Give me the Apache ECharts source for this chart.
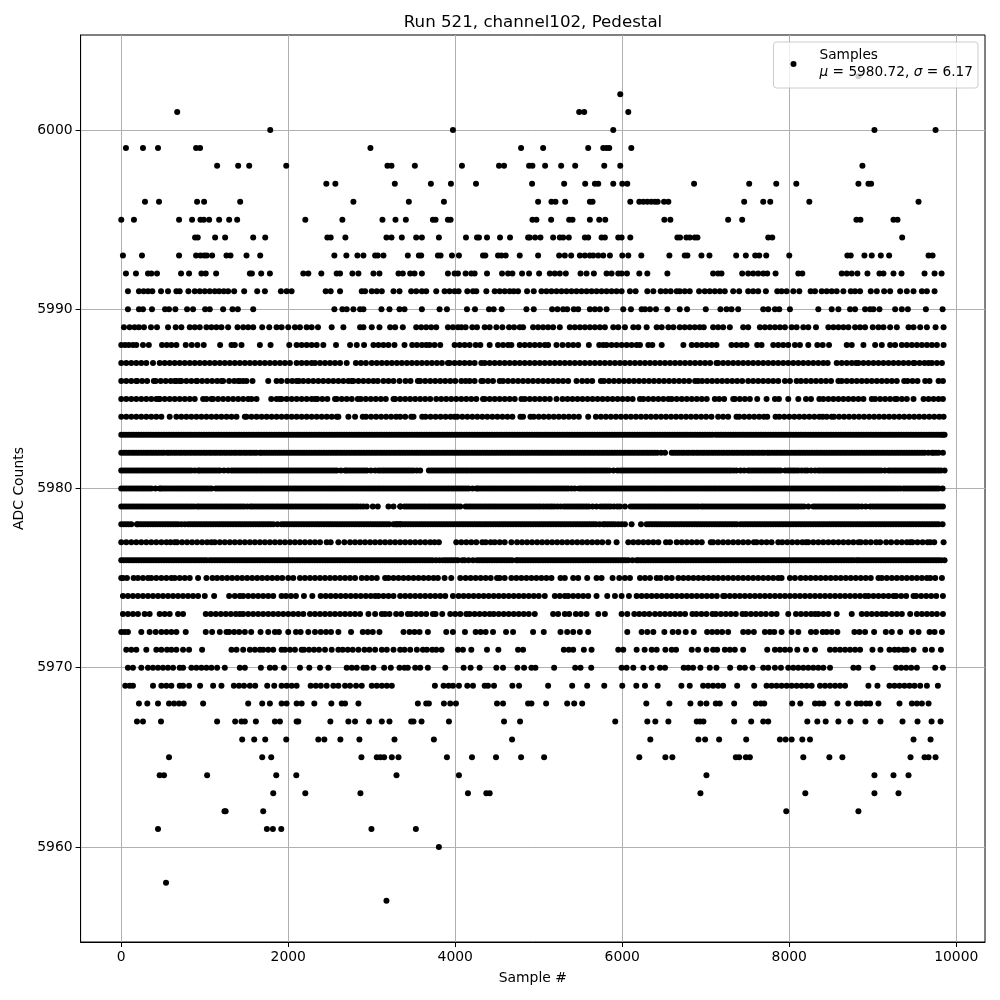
<!DOCTYPE html>
<html><head><meta charset="utf-8"><style>html,body{margin:0;padding:0;background:#fff}#c{width:1000px;height:1000px}</style>
<script src="https://cdn.jsdelivr.net/npm/echarts@6/dist/echarts.min.js"></script></head><body><div id="c"></div><script>
const xTicks=[0,2000,4000,6000,8000,10000];
const yTicks=[5960,5970,5980,5990,6000];
const r6003=[8828];
const r6002=[5976];
const r6001=[670,5484,5544,6072];
const r6000=[1784,3972,5892,9020,9752];
const r5999=[56,260,440,896,944,2984,4788,5052,5592,5772,5812,5844,6108];
const r5998=[1148,1400,1532,1976,3188,3236,3516,4080,4524,4584,4884,4924,5076,5268,5436,5784,5976,8876];
const r5997=[2456,2564,3276,3708,3948,4248,4920,5304,5556,5672,5712,5892,6000,6060,6860,7520,7844,8084,8828,8948,8980];
const r5996=[284,452,908,992,1424,2780,3444,3864,4992,5152,5200,5316,5612,5644,6096,6204,6252,6300,6348,6392,6424,6500,6552,7460,7688,7772,8240,9548];
const r5995=[0,152,692,848,948,988,1052,1172,1292,1388,2204,2648,3128,3284,3408,3732,3764,3912,3944,4924,4972,5148,5364,5404,5612,5724,5796,6504,6576,7268,7436,8804,8852,9248,9296];
const r5994=[884,916,1124,1244,1580,1724,2468,2508,2684,3176,3236,3360,3532,3600,3804,4128,4260,4284,4380,4536,4656,4872,4892,4956,5020,5172,5252,5292,5360,5552,5592,5752,5792,5952,5992,6096,6660,6692,6768,6808,6868,6900,7748,7796,9352];
const r5993=[20,248,692,896,948,992,1024,1088,1260,1308,1500,1664,2552,2696,2828,2900,3040,3072,3140,3432,3564,3592,3792,3824,3960,4044,4332,4360,4512,4552,4604,4772,4992,5244,5312,5388,5492,5552,5612,5652,5712,5772,5852,6000,6072,6228,6564,6748,6780,6948,7044,7364,7480,7592,7640,7724,8000,8696,8736,8900,8988,9096,9196,9668,9716];
const r5992=[56,176,320,360,428,716,812,960,1012,1136,1540,1564,1676,1780,2180,2240,2396,2580,2620,2768,2840,3020,3092,3320,3372,3460,3512,3600,3912,3992,4032,4124,4192,4232,4380,4560,4632,4684,4800,4884,5004,5132,5192,5252,5324,5500,5572,5660,5812,5872,5952,5992,6056,6204,6300,6540,7088,7148,7188,7436,7508,7568,7628,7688,7736,7836,8108,8156,8628,8688,8748,8816,8936,9080,9128,9248,9344,9620,9740,9824];
const r5991=[80,212,268,320,372,476,560,660,700,804,880,940,1000,1060,1120,1172,1228,1280,1352,1472,1628,1720,1912,1980,2040,2448,2508,2620,2880,2920,3000,3060,3120,3260,3332,3472,3532,3600,3652,3772,3872,3932,3992,4040,4144,4212,4252,4372,4472,4532,4592,4652,4700,4752,4860,4940,5032,5092,5152,5212,5272,5332,5392,5452,5512,5572,5632,5692,5752,5812,5872,5932,5992,6092,6160,6300,6372,6460,6520,6580,6652,6688,6748,6808,6920,6988,7048,7108,7168,7228,7328,7400,7508,7568,7628,7720,7856,7908,7968,8048,8120,8256,8308,8388,8448,8508,8568,8648,8736,8788,8848,8976,9048,9136,9208,9328,9408,9488,9588,9648,9740];
const r5990=[80,212,260,368,524,572,648,788,860,1004,1060,1220,1332,1396,1580,2552,2648,2700,2780,2860,2900,3116,3212,3332,3392,3600,3812,3900,4140,4236,4404,4460,4556,4852,4940,5160,5224,5292,5340,5420,5472,5612,5672,5732,5812,6012,6104,6232,6272,6332,6404,6540,6688,6776,7000,7176,7248,7308,7388,7688,7748,7828,7880,8008,8348,8508,8588,8728,8788,8908,8968,9008,9080,9268,9348,9420,9636,9836];
const r5989=[32,100,160,212,272,356,428,560,652,720,820,880,940,1020,1080,1140,1200,1280,1392,1460,1520,1580,1688,1772,1860,1920,2000,2080,2140,2220,2280,2356,2520,2660,2860,2900,3000,3092,3220,3280,3372,3532,3592,3652,3712,3772,3912,3972,4032,4072,4124,4204,4260,4352,4412,4492,4564,4644,4704,4772,4812,4932,4992,5052,5112,5172,5252,5372,5432,5492,5552,5612,5672,5732,5792,5892,5952,6032,6132,6192,6292,6412,6472,6552,6612,6688,6748,6808,6868,6928,6976,7088,7148,7208,7288,7448,7508,7648,7708,7768,7828,7888,7948,8028,8088,8168,8228,8320,8468,8528,8588,8648,8708,8788,8848,8908,9000,9068,9128,9208,9288,9428,9488,9568,9648,9752,9848];
const r5988=[0,45,90,140,180,260,330,488,545,600,660,772,844,912,988,1184,1320,1360,1440,1660,1788,2012,2100,2160,2220,2280,2340,2420,2572,2740,2820,2908,3020,3080,3140,3200,3272,3392,3484,3540,3600,3652,3692,3752,3820,3992,4052,4112,4172,4244,4300,4412,4512,4572,4632,4672,4772,4832,4892,4952,5012,5072,5112,5212,5284,5352,5412,5472,5600,5724,5772,5812,5872,5932,5992,6052,6112,6172,6212,6312,6360,6472,6732,6832,6892,6952,7012,7072,7128,7308,7368,7428,7488,7616,7668,7808,7868,7928,7988,8068,8128,8228,8336,8400,8476,8688,8748,8888,9028,9108,9208,9268,9348,9408,9468,9528,9588,9648,9708,9768,9848];
const r5987=[0,60,120,180,240,300,380,460,520,580,640,700,760,820,880,940,1000,1060,1120,1180,1240,1300,1360,1420,1480,1540,1600,1660,1720,1780,1840,1900,1960,2020,2100,2160,2220,2280,2320,2380,2440,2500,2560,2620,2700,2810,2870,2930,3000,3060,3120,3180,3240,3300,3360,3420,3480,3540,3600,3660,3720,3780,3840,3912,3932,3992,4052,4112,4172,4232,4312,4352,4412,4472,4532,4592,4652,4712,4772,4832,4892,4952,5012,5072,5132,5192,5252,5312,5372,5432,5492,5552,5612,5672,5732,5792,5852,5912,5972,6032,6092,6152,6212,6272,6332,6392,6452,6512,6572,6632,6692,6752,6812,6872,6932,6992,7052,7128,7148,7208,7268,7328,7388,7448,7508,7568,7628,7688,7748,7808,7868,7928,7988,8048,8108,8168,8228,8288,8348,8408,8460,8568,8628,8688,8748,8800,8828,8888,8948,9008,9068,9128,9188,9248,9308,9368,9428,9488,9500,9560,9620,9668,9708,9768,9828];
const r5986=[0,60,120,180,190,250,310,390,412,472,532,592,640,660,700,720,780,840,900,908,968,1028,1088,1148,1200,1220,1292,1352,1400,1420,1460,1500,1572,1760,1860,1916,1988,2048,2100,2128,2180,2240,2300,2360,2420,2480,2540,2600,2660,2720,2760,2780,2840,2900,2960,3020,3072,3140,3200,3260,3332,3404,3464,3552,3580,3640,3700,3760,3820,3880,3940,4000,4072,4124,4172,4232,4312,4332,4392,4452,4532,4572,4632,4692,4752,4812,4872,4932,4992,5052,5112,5172,5232,5292,5352,5452,5520,5580,5640,5744,5780,5840,5900,5960,6020,6080,6140,6200,6260,6320,6380,6440,6500,6560,6620,6680,6740,6800,6872,6908,6956,7016,7076,7136,7196,7256,7316,7376,7436,7508,7568,7628,7688,7748,7808,7868,7948,8008,8088,8140,8200,8260,8320,8380,8440,8500,8588,8628,8688,8748,8808,8868,8928,8988,9048,9108,9168,9228,9288,9376,9416,9476,9536,9628,9680,9788,9840];
const r5985=[0,60,120,180,240,300,360,420,452,460,520,580,640,700,760,820,880,980,1020,1080,1100,1160,1220,1280,1340,1400,1460,1520,1560,1620,1796,1860,1900,1920,1980,2040,2100,2160,2220,2280,2320,2348,2408,2468,2560,2580,2640,2700,2760,2832,2868,2928,2988,3048,3108,3168,3260,3280,3340,3400,3460,3520,3580,3640,3700,3772,3832,3892,3952,4012,4072,4132,4192,4252,4332,4352,4412,4472,4532,4592,4652,4712,4792,4832,4892,4952,5012,5072,5132,5212,5284,5344,5404,5464,5524,5584,5644,5704,5764,5824,5884,5944,6004,6064,6124,6212,6252,6312,6372,6432,6492,6552,6592,6652,6712,6772,6832,6892,6952,7012,7108,7160,7220,7328,7348,7408,7468,7528,7616,7728,7828,7876,7988,8108,8200,8260,8360,8408,8468,8528,8588,8648,8708,8768,8828,8888,8988,9028,9088,9148,9208,9268,9288,9348,9408,9488,9608,9668,9728,9788,9840];
const r5984=[0,60,120,180,240,300,360,420,480,580,660,720,780,840,900,960,1020,1080,1140,1200,1260,1320,1380,1480,1500,1560,1620,1680,1740,1800,1860,1920,1980,2040,2100,2160,2220,2280,2340,2400,2460,2520,2580,2600,2720,2800,2892,2932,2992,3052,3112,3172,3232,3292,3340,3400,3472,3500,3604,3644,3704,3764,3824,3884,3944,3992,4024,4084,4144,4204,4264,4324,4384,4444,4504,4564,4624,4684,4780,4812,4900,4940,5000,5060,5120,5180,5240,5300,5360,5420,5480,5592,5684,5744,5804,5864,5924,5984,6044,6104,6164,6224,6284,6344,6404,6464,6524,6584,6644,6704,6764,6824,6884,6944,7004,7068,7148,7208,7268,7368,7400,7460,7520,7580,7640,7696,7736,7836,7880,7940,8000,8060,8120,8180,8240,8300,8360,8400,8448,8508,8536,8596,8656,8716,8776,8836,8896,8956,9016,9076,9136,9196,9256,9316,9376,9436,9496,9556,9616,9676,9736,9796,9848];
const r5983=[0,60,120,180,240,300,360,420,480,540,600,660,720,780,840,900,960,1020,1080,1140,1200,1260,1320,1380,1440,1500,1560,1620,1680,1740,1800,1860,1920,1980,2040,2100,2160,2220,2280,2340,2400,2460,2520,2580,2640,2700,2760,2820,2880,2940,3000,3060,3120,3180,3240,3300,3360,3420,3480,3540,3600,3660,3720,3780,3840,3900,3960,4020,4080,4140,4200,4260,4320,4380,4440,4500,4560,4620,4680,4740,4800,4860,4920,4980,5040,5100,5160,5220,5280,5340,5400,5460,5520,5580,5640,5700,5760,5820,5880,5940,6000,6060,6120,6180,6240,6300,6360,6420,6480,6540,6600,6660,6720,6780,6840,6900,6960,7020,7080,7120,7180,7240,7300,7360,7420,7480,7540,7600,7660,7720,7780,7840,7900,7960,8020,8080,8140,8200,8260,8320,8380,8440,8500,8560,8620,8680,8740,8800,8860,8920,8980,9040,9100,9160,9220,9280,9340,9400,9460,9520,9580,9640,9700,9760,9820,9860,
30,90,150,210,270,330,390,450,510,570,630,690,750,810,870,930,990,1050,1110,1170,1230,1290,1350,1410,1470,1530,1590,1650,1710,1770,1830,1890,1950,2010,2070,2130,2190,2250,2310,2370,2430,2490,2550,2610,2670,2730,2790,2850,2910,2970,3030,3090,3150,3210,3270,3330,3390,3450,3510,3570,3630,3690,3750,3810,3870,3930,3990,4050,4110,4170,4230,4290,4350,4410,4470,4530,4590,4650,4710,4770,4830,4890,4950,5010,5070,5130,5190,5250,5310,5370,5430,5490,5550,5610,5670,5730,5790,5850,5910,5970,6030,6090,6150,6210,6270,6330,6390,6450,6510,6570,6630,6690,6750,6810,6870,6930,6990,7050,7150,7210,7270,7330,7390,7450,7510,7570,7630,7690,7750,7810,7870,7930,7990,8050,8110,8170,8230,8290,8350,8410,8470,8530,8590,8650,8710,8770,8830,8890,8950,9010,9070,9130,9190,9250,9310,9370,9430,9490,9550,9610,9670,9730,9790,9840];
const r5982=[0,60,120,180,240,300,360,420,480,548,572,632,692,752,812,872,932,992,1052,1112,1172,1232,1292,1352,1412,1472,1532,1592,1660,1680,1740,1800,1860,1920,1980,2040,2100,2160,2220,2280,2340,2400,2460,2520,2580,2640,2700,2760,2820,2880,2940,3000,3060,3120,3180,3240,3300,3360,3420,3480,3540,3600,3660,3720,3780,3840,3900,3960,4020,4080,4140,4200,4260,4320,4380,4440,4500,4560,4620,4680,4740,4800,4860,4920,4980,5040,5100,5160,5220,5280,5340,5400,5460,5520,5580,5640,5700,5760,5820,5880,5940,6000,6060,6120,6180,6240,6300,6360,6420,6512,6592,6652,6712,6772,6832,6892,6952,7012,7072,7132,7192,7252,7312,7372,7432,7492,7552,7612,7672,7736,7760,7820,7880,7940,8000,8060,8120,8180,8240,8300,8360,8420,8480,8540,8600,8660,8720,8780,8840,8900,8960,9020,9080,9140,9200,9260,9320,9380,9440,9500,9560,9620,9708,9728,9788,9840,
30,90,150,210,270,330,390,450,510,600,660,720,780,840,900,960,1020,1080,1140,1200,1260,1320,1380,1440,1500,1560,1620,1710,1770,1830,1890,1950,2010,2070,2130,2190,2250,2310,2370,2430,2490,2550,2610,2670,2730,2790,2850,2910,2970,3030,3090,3150,3210,3270,3330,3390,3450,3510,3570,3630,3690,3750,3810,3870,3930,3990,4050,4110,4170,4230,4290,4350,4410,4470,4530,4590,4650,4710,4770,4830,4890,4950,5010,5070,5130,5190,5250,5310,5370,5430,5490,5550,5610,5670,5730,5790,5850,5910,5970,6030,6090,6150,6210,6270,6330,6390,6466,6620,6680,6740,6800,6860,6920,6980,7040,7100,7160,7220,7280,7340,7400,7460,7520,7580,7640,7700,7790,7850,7910,7970,8030,8090,8150,8210,8270,8330,8390,8450,8510,8570,8630,8690,8750,8810,8870,8930,8990,9050,9110,9170,9230,9290,9350,9410,9470,9530,9590,9664,9758];
const r5981=[0,60,120,180,240,300,360,420,480,540,600,660,720,780,840,920,940,1000,1060,1120,1180,1280,1320,1380,1440,1500,1560,1620,1680,1740,1800,1860,1920,1980,2040,2100,2160,2220,2280,2340,2400,2460,2520,2580,2680,2700,2760,2820,2880,2940,3040,3080,3140,3200,3260,3320,3380,3440,3500,3580,3684,3744,3804,3864,3924,3984,4044,4104,4164,4224,4284,4344,4404,4464,4524,4584,4644,4704,4764,4824,4884,4944,5004,5064,5124,5184,5244,5304,5364,5424,5484,5544,5604,5664,5724,5784,5844,5944,5980,6040,6100,6160,6220,6280,6340,6400,6460,6520,6580,6640,6700,6760,6820,6880,6940,7000,7060,7120,7180,7240,7300,7368,7416,7508,7536,7596,7656,7716,7776,7836,7896,7952,7988,8048,8108,8188,8216,8308,8348,8408,8468,8528,8588,8648,8708,8768,8828,8888,8948,9008,9068,9100,9188,9216,9276,9336,9396,9456,9516,9576,9636,9696,9756,9816,9860,
30,90,150,210,270,330,390,450,510,570,630,690,750,810,880,970,1030,1090,1150,1230,1350,1410,1470,1530,1590,1650,1710,1770,1830,1890,1950,2010,2070,2130,2190,2250,2310,2370,2430,2490,2550,2630,2730,2790,2850,2910,2990,3110,3170,3230,3290,3350,3410,3470,3540,3714,3774,3834,3894,3954,4014,4074,4134,4194,4254,4314,4374,4434,4494,4554,4614,4674,4734,4794,4854,4914,4974,5034,5094,5154,5214,5274,5334,5394,5454,5514,5574,5634,5694,5754,5814,5894,6010,6070,6130,6190,6250,6310,6370,6430,6490,6550,6610,6670,6730,6790,6850,6910,6970,7030,7090,7150,7210,7270,7334,7460,7566,7626,7686,7746,7806,7866,8018,8078,8148,8262,8378,8438,8498,8558,8618,8678,8738,8798,8858,8918,8978,9038,9144,9246,9306,9366,9426,9486,9546,9606,9666,9726,9786];
const r5980=[0,60,120,180,240,300,360,410,460,480,540,600,660,720,780,840,900,960,1020,1080,1132,1160,1220,1280,1340,1400,1460,1520,1580,1640,1700,1760,1820,1880,1940,2000,2060,2120,2180,2240,2300,2360,2420,2480,2540,2600,2660,2720,2780,2840,2900,2960,3020,3080,3140,3200,3260,3320,3380,3440,3500,3560,3620,3680,3740,3800,3860,3920,3980,4040,4100,4160,4206,4252,4272,4332,4392,4452,4512,4572,4632,4692,4752,4812,4872,4932,4992,5052,5112,5172,5232,5292,5352,5392,5432,5484,5544,5604,5664,5724,5784,5844,5904,5964,6024,6084,6144,6204,6264,6324,6384,6444,6504,6564,6624,6684,6744,6804,6864,6924,6984,7044,7104,7164,7224,7284,7344,7404,7464,7524,7584,7644,7704,7764,7824,7884,7944,8004,8064,8124,8184,8244,8304,8364,8424,8484,8544,8604,8664,8724,8784,8844,8904,8964,9024,9084,9144,9204,9264,9328,9368,9428,9488,9548,9608,9668,9728,9788,9836,
30,90,150,210,270,330,510,570,630,690,750,810,870,930,990,1050,1190,1250,1310,1370,1430,1490,1550,1610,1670,1730,1790,1850,1910,1970,2030,2090,2150,2210,2270,2330,2390,2450,2510,2570,2630,2690,2750,2810,2870,2930,2990,3050,3110,3170,3230,3290,3350,3410,3470,3530,3590,3650,3710,3770,3830,3890,3950,4010,4070,4130,4300,4362,4422,4482,4542,4602,4662,4722,4782,4842,4902,4962,5022,5082,5142,5202,5262,5322,5514,5574,5634,5694,5754,5814,5874,5934,5994,6054,6114,6174,6234,6294,6354,6414,6474,6534,6594,6654,6714,6774,6834,6894,6954,7014,7074,7134,7194,7254,7314,7374,7434,7494,7554,7614,7674,7734,7794,7854,7914,7974,8034,8094,8154,8214,8274,8334,8394,8454,8514,8574,8634,8694,8754,8814,8874,8934,8994,9054,9114,9174,9234,9296,9398,9458,9518,9578,9638,9698,9758];
const r5979=[0,60,120,180,240,300,360,420,480,540,600,660,720,780,840,908,932,992,1052,1112,1172,1232,1292,1352,1412,1472,1548,1572,1632,1692,1752,1812,1872,1932,1992,2052,2112,2172,2232,2292,2352,2412,2472,2532,2592,2652,2712,2772,2832,2900,2940,3012,3072,3200,3260,3340,3344,3392,3452,3512,3572,3632,3692,3752,3812,3872,3932,3992,4060,4124,4184,4244,4304,4364,4424,4484,4544,4604,4664,4724,4784,4844,4904,4964,5024,5092,5124,5184,5260,5300,5360,5420,5480,5540,5600,5692,5740,5800,5860,5940,5972,6032,6100,6132,6192,6252,6312,6372,6432,6492,6552,6612,6672,6732,6792,6852,6912,6948,6976,7036,7096,7156,7216,7276,7336,7396,7456,7516,7576,7636,7696,7756,7816,7876,7936,7996,8056,8116,8176,8228,8288,8348,8408,8468,8528,8588,8648,8708,8768,8828,8868,8916,8968,9028,9088,9148,9208,9268,9328,9388,9448,9508,9568,9628,9688,9748,9808,9840,
30,90,150,210,270,330,390,450,510,570,630,690,750,810,870,962,1022,1082,1142,1202,1262,1322,1382,1442,1510,1602,1662,1722,1782,1842,1902,1962,2022,2082,2142,2202,2262,2322,2382,2442,2502,2562,2622,2682,2742,2802,2866,3422,3482,3542,3602,3662,3722,3782,3842,3902,3962,4026,4154,4214,4274,4334,4394,4454,4514,4574,4634,4694,4754,4814,4874,4934,4994,5058,5154,5222,5330,5390,5450,5510,5570,5646,5770,5830,5900,6162,6222,6282,6342,6402,6462,6522,6582,6642,6702,6762,6822,6882,7006,7066,7126,7186,7246,7306,7366,7426,7486,7546,7606,7666,7726,7786,7846,7906,7966,8026,8086,8146,8318,8378,8438,8498,8558,8618,8678,8738,8798,8998,9058,9118,9178,9238,9298,9358,9418,9478,9538,9598,9658,9718,9778];
const r5978=[0,60,120,188,200,260,320,380,440,500,560,620,680,760,800,860,920,980,1040,1100,1160,1220,1280,1340,1400,1460,1520,1580,1640,1700,1760,1820,1920,1948,2008,2068,2128,2188,2248,2308,2368,2428,2488,2548,2608,2668,2728,2788,2848,2908,2968,3028,3088,3148,3208,3260,3300,3340,3284,3344,3404,3464,3524,3584,3644,3704,3764,3824,3884,3944,4004,4064,4124,4184,4244,4304,4364,4424,4484,4544,4604,4664,4724,4784,4844,4904,4964,5024,5084,5144,5204,5264,5324,5384,5444,5504,5564,5624,5684,5772,5792,5852,5912,5992,6032,6112,6224,6292,6352,6412,6472,6532,6592,6652,6712,6772,6832,6892,6952,7012,7072,7132,7192,7252,7312,7372,7416,7448,7508,7568,7628,7688,7748,7808,7868,7928,7988,8048,8108,8168,8228,8288,8348,8408,8468,8528,8588,8648,8708,8768,8828,8888,8948,9008,9068,9128,9188,9248,9308,9368,9428,9488,9548,9608,9668,9728,9788,9836,
30,90,230,290,350,410,470,530,590,650,720,830,890,950,1010,1070,1130,1190,1250,1310,1370,1430,1490,1550,1610,1670,1730,1790,1870,1978,2038,2098,2158,2218,2278,2338,2398,2458,2518,2578,2638,2698,2758,2818,2878,2938,2998,3058,3118,3178,3314,3374,3434,3494,3554,3614,3674,3734,3794,3854,3914,3974,4034,4094,4154,4214,4274,4334,4394,4454,4514,4574,4634,4694,4754,4814,4874,4934,4994,5054,5114,5174,5234,5294,5354,5414,5474,5534,5594,5654,5728,5822,5882,5952,6322,6382,6442,6502,6562,6622,6682,6742,6802,6862,6922,6982,7042,7102,7162,7222,7282,7342,7478,7538,7598,7658,7718,7778,7838,7898,7958,8018,8078,8138,8198,8258,8318,8378,8438,8498,8558,8618,8678,8738,8798,8858,8918,8978,9038,9098,9158,9218,9278,9338,9398,9458,9518,9578,9638,9698,9758];
const r5977=[0,60,120,180,240,300,360,420,480,540,590,640,668,728,788,848,908,968,1028,1080,1120,1180,1240,1300,1360,1420,1480,1540,1600,1660,1720,1780,1840,1900,1960,2020,2080,2140,2200,2260,2320,2380,2460,2508,2600,2672,2740,2800,2860,2920,2980,3040,3100,3160,3220,3280,3340,3400,3460,3520,3580,3640,3700,3752,3804,4012,4072,4132,4192,4252,4324,4364,4424,4472,4532,4592,4672,4740,4800,4860,4920,4980,5040,5100,5160,5220,5280,5340,5400,5460,5520,5580,5640,5700,5760,5832,5932,6072,6132,6192,6252,6312,6372,6432,6524,6572,6652,6712,6772,6832,6892,6952,7060,7088,7148,7208,7268,7328,7388,7448,7508,7576,7608,7668,7728,7788,7868,7916,7976,8036,8096,8156,8200,8228,8288,8348,8408,8468,8528,8588,8648,8708,8768,8828,8856,8916,8976,9040,9088,9160,9220,9288,9348,9408,9448,9476,9536,9596,9656,9688,9736,9848];
const r5976=[0,60,120,180,240,300,360,420,480,540,600,660,720,780,840,900,960,1020,1060,1120,1180,1240,1300,1360,1420,1480,1540,1600,1660,1720,1780,1840,1900,1960,2020,2080,2140,2200,2260,2320,2380,2440,2468,2528,2588,2648,2708,2768,2828,2888,2948,3008,3068,3128,3188,3248,3308,3368,3428,3488,3548,3608,3668,3728,3812,3852,3912,3972,4032,4084,4112,4212,4260,4320,4380,4440,4500,4560,4620,4680,4732,4752,4812,4872,4932,4992,5052,5112,5172,5232,5292,5352,5412,5472,5532,5592,5652,5712,5772,5832,5892,5952,6012,6072,6172,6192,6252,6312,6372,6432,6492,6552,6612,6672,6732,6792,6852,6912,6972,7032,7092,7152,7212,7272,7332,7392,7452,7512,7572,7632,7692,7752,7812,7872,7932,7992,8052,8112,8172,8232,8292,8352,8412,8472,8532,8592,8652,8712,8772,8808,8828,8888,8948,9008,9068,9128,9188,9248,9308,9368,9428,9488,9548,9608,9668,9728,9788,9860,
30,90,150,210,270,330,390,450,510,570,630,690,750,810,870,930,990,1090,1150,1210,1270,1330,1390,1450,1510,1570,1630,1690,1750,1810,1870,1930,1990,2050,2110,2170,2230,2290,2350,2410,2498,2558,2618,2678,2738,2798,2858,2918,2978,3038,3098,3158,3218,3278,3338,3398,3458,3518,3578,3638,3698,3770,3882,3942,4002,4160,4290,4350,4410,4470,4530,4590,4650,4782,4842,4902,4962,5022,5082,5142,5202,5262,5322,5382,5442,5502,5562,5622,5682,5742,5802,5862,5922,5982,6042,6122,6222,6282,6342,6402,6462,6522,6582,6642,6702,6762,6822,6882,6942,7002,7062,7122,7182,7242,7302,7362,7422,7482,7542,7602,7662,7722,7782,7842,7902,7962,8022,8082,8142,8202,8262,8322,8382,8442,8502,8562,8622,8682,8742,8858,8918,8978,9038,9098,9158,9218,9278,9338,9398,9458,9518,9578,9638,9698,9758,9820];
const r5975=[0,20,68,148,200,260,320,360,420,480,540,600,640,700,760,820,920,1020,1092,1148,1208,1268,1328,1388,1448,1508,1568,1628,1688,1748,1808,1868,1928,2000,2060,2140,2200,2260,2320,2380,2440,2500,2560,2620,2680,2740,2800,2880,2940,3000,3060,3160,3200,3260,3320,3380,3440,3500,3560,3620,3680,3740,3792,3872,3952,4060,4124,4184,4244,4304,4364,4424,4500,4532,4592,4672,4732,4792,4852,4912,4972,5032,5092,5152,5260,5312,5412,5472,5580,5692,5752,5884,5964,6032,6092,6212,6272,6332,6412,6460,6532,6592,6672,6732,6792,6852,6912,6972,7032,7092,7148,7208,7268,7328,7388,7448,7508,7568,7628,7688,7748,7808,7868,7908,8008,8068,8136,8196,8256,8316,8376,8436,8496,8556,8616,8676,8736,8796,8856,8916,8976,9068,9108,9168,9228,9288,9348,9408,9468,9528,9588,9648,9688,9748,9828];
const r5974=[20,80,140,200,260,320,380,440,500,560,620,680,740,800,860,920,1000,1112,1292,1360,1420,1460,1520,1580,1640,1700,1760,1820,1920,1972,2032,2092,2188,2288,2388,2448,2508,2568,2628,2688,2748,2808,2868,2928,2988,3040,3080,3140,3200,3260,3340,3400,3460,3520,3580,3640,3700,3760,3820,3880,3972,4040,4100,4160,4220,4280,4340,4400,4460,4520,4580,4640,4700,4760,4820,4880,4940,5000,5072,5192,5252,5312,5352,5412,5472,5532,5592,5692,5820,5912,5992,6080,6172,6232,6292,6352,6412,6472,6532,6592,6652,6712,6772,6832,6892,6952,7012,7072,7132,7208,7228,7288,7348,7408,7468,7528,7588,7648,7708,7768,7828,7888,7948,8008,8068,8128,8188,8248,8308,8368,8428,8488,8548,8608,8668,8728,8788,8848,8908,8948,9008,9068,9128,9188,9248,9280,9340,9400,9488,9520,9580,9640,9700,9760,9840];
const r5973=[20,80,140,200,280,340,460,520,580,680,740,1012,1072,1132,1192,1252,1312,1372,1420,1460,1520,1580,1640,1700,1760,1820,1880,1940,2000,2060,2120,2180,2260,2320,2380,2440,2500,2560,2620,2680,2740,2800,2860,2960,3040,3120,3160,3212,3292,3352,3432,3472,3532,3592,3652,3732,3764,3844,3940,4000,4060,4132,4172,4232,4292,4352,4412,4460,4520,4580,4640,4700,4760,4820,4880,4952,5172,5232,5312,5364,5444,5504,5572,5712,5792,5992,6060,6144,6204,6264,6324,6392,6452,6512,6572,6632,6692,6752,6840,6888,6948,7008,7080,7120,7180,7240,7300,7360,7440,7480,7540,7600,7660,7720,7788,7848,7988,8080,8140,8200,8260,8308,8348,8408,8468,8568,8748,8868,8928,8988,9048,9108,9160,9228,9288,9348,9448,9528,9588,9648,9708,9768,9840];
const r5972=[0,40,80,240,340,412,480,540,600,660,772,1012,1088,1180,1260,1292,1352,1412,1480,1556,1668,1760,1840,1888,2000,2092,2148,2240,2320,2388,2452,2512,2600,2752,2892,2952,3012,3092,3380,3452,3512,3572,3672,3892,3972,4116,4244,4304,4364,4452,4608,4692,4932,5060,5260,5340,5412,5492,5592,6060,6232,6300,6372,6504,6604,6672,6760,6856,7016,7076,7136,7196,7268,7448,7508,7576,7708,7768,7820,7908,8028,8108,8260,8320,8400,8448,8508,8576,8780,8840,8908,9016,9156,9228,9328,9468,9548,9680,9740,9828];
const r5971=[60,120,180,300,420,480,548,600,660,740,812,968,1320,1380,1460,1540,1600,1660,1700,1760,1820,1920,1960,2020,2080,2160,2188,2248,2308,2368,2440,2520,2600,2652,2712,2772,2840,2912,2972,3040,3120,3180,3260,3340,3392,3460,3540,3612,3660,3724,3772,3836,4032,4092,4192,4380,4516,4752,4812,5300,5360,5412,5540,5632,5952,6012,6172,6268,6352,6412,6516,6592,6644,6832,6908,7008,7088,7136,7228,7288,7348,7448,7736,7828,7888,7948,8008,8096,8200,8308,8488,8548,8608,8668,8728,8788,8848,8996,9092,9200,9260,9308,9368,9408,9488,9628,9708,9816];
const r5970=[80,140,240,320,380,440,500,560,620,700,740,840,900,960,1020,1080,1148,1240,1420,1480,1672,1780,1840,1948,2140,2252,2380,2480,2700,2760,2820,2900,2940,3020,3148,3228,3332,3392,3432,3520,3580,3672,3880,4100,4184,4292,4492,4572,4744,4824,4912,4960,5184,5436,5500,5628,5992,6052,6132,6252,6352,6452,6512,6736,6790,6848,6936,7048,7128,7292,7408,7468,7560,7688,7748,7828,7900,7988,8048,8108,8168,8228,8288,8348,8408,8488,8768,8828,9000,9280,9340,9400,9460,9528,9748,9840];
const r5969=[48,100,140,380,480,540,600,700,740,812,944,1100,1200,1348,1410,1470,1540,1604,1748,1832,1920,1980,2040,2100,2268,2330,2390,2460,2540,2600,2680,2740,2812,2880,3000,3060,3120,3180,3240,3756,3860,3920,3972,4044,4144,4212,4352,4392,4464,4684,4764,5112,5400,5580,5784,6000,6168,6272,6424,6708,6808,6968,7028,7088,7148,7208,7376,7580,7728,7788,7848,7908,7968,8028,8088,8148,8208,8268,8368,8428,8488,8548,8608,8668,8948,9056,9200,9260,9320,9380,9440,9500,9568,9648,9780];
const r5968=[212,312,440,572,632,692,748,980,1520,1688,1780,1920,1980,2100,2160,2312,2516,2640,2680,2840,3552,3652,3684,3864,3940,4008,4500,4572,4872,4912,5088,5340,5424,5520,6288,6564,6816,6936,7008,7120,7168,7340,7600,7660,7700,8036,8132,8308,8360,8408,8576,8708,8808,8860,8920,8968,9068,9320,9468,9528,9588,9668];
const r5967=[188,260,476,1148,1364,1440,1480,1612,1840,1900,2100,2120,2504,2720,2800,2968,3120,3212,3472,3500,3596,3924,4584,4776,5916,6300,6396,6552,6892,6932,6972,7340,7544,7688,7748,8216,8336,8436,8588,8732,8912,9092,9356,9536,9704,9812];
const r5966=[1448,1592,1724,1976,2360,2432,2624,2852,3272,3744,4680,6336,6912,6992,7160,7484,7888,7956,8028,8156,8248,9488,9692];
const r5965=[572,1688,1796,2876,3060,3104,3148,3240,3320,3900,4200,4488,4788,5064,6204,6516,6600,7360,7400,7480,7528,8168,8480,8636,9452,9620,9668,9752];
const r5964=[460,512,1028,1856,2096,3296,4044,7008,9020,9248,9428];
const r5963=[1820,2204,2864,4152,4372,4412,6936,8192,9020,9308];
const r5962=[1236,1250,1700,7964,8828];
const r5961=[440,1744,1816,1916,2996,3528];
const r5960=[3804];
const r5958=[536];
const r5957=[3176];
const levels=[[6003,r6003],[6002,r6002],[6001,r6001],[6000,r6000],[5999,r5999],[5998,r5998],[5997,r5997],[5996,r5996],[5995,r5995],[5994,r5994],[5993,r5993],[5992,r5992],[5991,r5991],[5990,r5990],[5989,r5989],[5988,r5988],[5987,r5987],[5986,r5986],[5985,r5985],[5984,r5984],[5983,r5983],[5982,r5982],[5981,r5981],[5980,r5980],[5979,r5979],[5978,r5978],[5977,r5977],[5976,r5976],[5975,r5975],[5974,r5974],[5973,r5973],[5972,r5972],[5971,r5971],[5970,r5970],[5969,r5969],[5968,r5968],[5967,r5967],[5966,r5966],[5965,r5965],[5964,r5964],[5963,r5963],[5962,r5962],[5961,r5961],[5960,r5960],[5958,r5958],[5957,r5957]];
const points=[];
for(const [v,xs] of levels){for(const x of xs)points.push([x,v]);}
const F='"DejaVu Sans"';
const chart=echarts.init(document.getElementById('c'),null,{renderer:'canvas'});
chart.setOption({animation:false,
title:{text:'Run 521, channel102, Pedestal',left:528,textAlign:'center',top:9,textStyle:{fontFamily:F,fontSize:16.67,fontWeight:'normal',color:'#000'}},
legend:{top:42,right:22,orient:'vertical',padding:[5,5,7,17],itemWidth:6,itemHeight:6,icon:'circle',backgroundColor:'rgba(255,255,255,0.8)',borderColor:'#ccc',borderWidth:1,borderRadius:3,
 formatter:()=>'Samples\n{i|μ} = 5980.72, {i|σ} = 6.17',
 textStyle:{fontFamily:F,fontSize:13.7,color:'#000',lineHeight:17,padding:[0,0,0,18],rich:{i:{fontFamily:F,fontStyle:'italic',fontSize:13.7,color:'#000',lineHeight:17}}}},
grid:{left:80.6,right:15,top:35,bottom:58,show:true,borderColor:'#000',borderWidth:1,backgroundColor:'#fff'},
xAxis:{type:'value',min:-487,max:10344,name:'Sample #',nameLocation:'middle',nameGap:29,nameTextStyle:{fontFamily:F,fontSize:13.9,color:'#000'},
 axisLine:{show:true,onZero:false,lineStyle:{color:'#000'}},axisTick:{show:true,length:5,customValues:xTicks,lineStyle:{color:'#000'}},
 axisLabel:{customValues:xTicks,formatter:v=>String(v),fontFamily:F,fontSize:13.9,color:'#000',margin:8,hideOverlap:false},
 splitLine:{show:true,lineStyle:{color:'#b0b0b0',width:1}}},
yAxis:{type:'value',min:5954.7,max:6005.3,name:'ADC Counts',nameLocation:'middle',nameGap:49,nameTextStyle:{fontFamily:F,fontSize:13.9,color:'#000'},
 axisLine:{show:true,onZero:false,lineStyle:{color:'#000'}},axisTick:{show:true,length:5,customValues:yTicks,lineStyle:{color:'#000'}},
 axisLabel:{customValues:yTicks,formatter:v=>String(v),fontFamily:F,fontSize:13.9,color:'#000',margin:8},
 splitLine:{show:true,lineStyle:{color:'#b0b0b0',width:1}}},
series:[{type:'scatter',name:'Samples',data:points,symbol:'circle',symbolSize:6,itemStyle:{color:'#000',opacity:1},progressive:0,silent:true}]
});
</script></body></html>
